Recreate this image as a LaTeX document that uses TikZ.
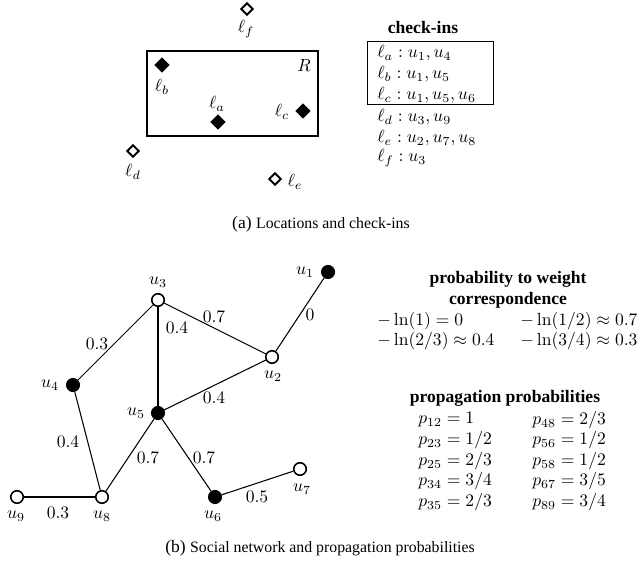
\documentclass[tikz,border=0pt]{standalone}
\usepackage{amsmath,amssymb}
\usepackage[no-math]{fontspec}
\setmainfont{Liberation Serif}
\usepackage{tikz}
\usetikzlibrary{shapes.geometric}

\begin{document}
\begin{tikzpicture}[
        x=0.02cm, y=-0.02cm,
        loc/.style={draw, diamond, line width=1.1pt, inner sep=0pt, minimum size=0.25cm, fill=white},
        visited/.style={loc, fill=black, minimum size=0.27cm},
        user/.style={draw, circle, line width=0.9pt, inner sep=0pt, minimum size=0.25cm, fill=white},
        infected/.style={user, fill=black},
        lbl/.style={inner sep=1pt},
        weight/.style={inner sep=1pt},
        heading/.style={font=\bfseries, inner sep=0pt, align=center},
        row/.style={anchor=west, inner sep=0pt}
    ]
        \useasboundingbox (0,0) rectangle (642,563);

        % Region and locations
        \draw[line width=1.2pt] (147,51) rectangle (318,136);
        \node[lbl] (R) at (304,66) {$R$};
        \node[visited] (la) at (218,122) {};
        \node[visited] (lb) at (162,65) {};
        \node[visited] (lc) at (303,111) {};
        \node[loc] (ld) at (133,151) {};
        \node[loc] (le) at (275,179) {};
        \node[loc] (lf) at (247,9) {};
        \node[lbl] (la-l) at (217,104) {$\ell_a$};
        \node[lbl] (lb-l) at (162,87) {$\ell_b$};
        \node[lbl] (lc-l) at (282,112) {$\ell_c$};
        \node[lbl] (ld-l) at (133,172) {$\ell_d$};
        \node[lbl] (le-l) at (295,182) {$\ell_e$};
        \node[lbl] (lf-l) at (246,29) {$\ell_f$};

        % Check-ins
        \node[heading] (chk) at (423,27) {check-ins};
        \draw[line width=0.5pt] (367,41) rectangle (493,104);
        \node[row] (ca) at (377,53) {$\ell_a : u_1, u_4$};
        \node[row] (cb) at (377,74) {$\ell_b : u_1, u_5$};
        \node[row] (cc) at (377,95.5) {$\ell_c : u_1, u_5, u_6$};
        \node[row] (cd) at (377,117) {$\ell_d : u_3, u_9$};
        \node[row] (ce) at (377,138) {$\ell_e : u_2, u_7, u_8$};
        \node[row] (cf) at (377,158) {$\ell_f : u_3$};

        \node (capa) at (321,224) {(a) {\small Locations and check-ins}};

        % Social network
        \node[infected] (u1) at (328,272) {};
        \node[user] (u2) at (272,357) {};
        \node[user] (u3) at (158,300) {};
        \node[infected] (u4) at (73,385) {};
        \node[infected] (u5) at (158,413) {};
        \node[infected] (u6) at (215,497) {};
        \node[user] (u7) at (300,469) {};
        \node[user] (u8) at (102,497) {};
        \node[user] (u9) at (17,497) {};

        \node[lbl] (u1-l) at (305,272) {$u_1$};
        \node[lbl] (u2-l) at (273,376) {$u_2$};
        \node[lbl] (u3-l) at (158,282) {$u_3$};
        \node[lbl] (u4-l) at (50,385) {$u_4$};
        \node[lbl] (u5-l) at (136,413) {$u_5$};
        \node[lbl] (u6-l) at (213,516) {$u_6$};
        \node[lbl] (u7-l) at (302,489) {$u_7$};
        \node[lbl] (u8-l) at (102,516) {$u_8$};
        \node[lbl] (u9-l) at (16,516) {$u_9$};

        % Edges
        \draw[line width=0.6pt] (u1) -- (u2);
        \draw[line width=0.6pt] (u2) -- (u3);
        \draw[line width=0.6pt] (u2) -- (u5);
        \draw[line width=0.6pt] (u3) -- (u4);
        \draw[line width=0.6pt] (u3) -- (u5);
        \draw[line width=0.6pt] (u4) -- (u8);
        \draw[line width=0.6pt] (u5) -- (u6);
        \draw[line width=0.6pt] (u5) -- (u8);
        \draw[line width=0.6pt] (u6) -- (u7);
        \draw[line width=0.6pt] (u8) -- (u9);

        \node[weight] (w12) at (310,315) {$0$};
        \node[weight] (w23) at (214,317) {$0.7$};
        \node[weight] (w25) at (214,398) {$0.4$};
        \node[weight] (w34) at (97,344) {$0.3$};
        \node[weight] (w35) at (177,328) {$0.4$};
        \node[weight] (w48) at (68,442) {$0.4$};
        \node[weight] (w56) at (204,458) {$0.7$};
        \node[weight] (w58) at (148,458) {$0.7$};
        \node[weight] (w67) at (257,497) {$0.5$};
        \node[weight] (w89) at (58,513) {$0.3$};

        % Weights
        \node[heading] (corr) at (508,290) {probability to weight\\correspondence};
        \node[row] (ln1) at (377,321.5) {$-\ln(1) = 0$};
        \node[row] (ln2) at (520,321.5) {$-\ln(1/2) \approx 0.7$};
        \node[row] (ln3) at (377,341.5) {$-\ln(2/3) \approx 0.4$};
        \node[row] (ln4) at (520,341.5) {$-\ln(3/4) \approx 0.3$};

        % Probabilities
        \node[heading] (prob) at (505,398) {propagation probabilities};
        \node[row] (p12) at (418,420) {$p_{12} = 1$};
        \node[row] (p23) at (418,440.5) {$p_{23} = 1/2$};
        \node[row] (p25) at (418,461) {$p_{25} = 2/3$};
        \node[row] (p34) at (418,481.5) {$p_{34} = 3/4$};
        \node[row] (p35) at (418,502) {$p_{35} = 2/3$};
        \node[row] (p48) at (532,420) {$p_{48} = 2/3$};
        \node[row] (p56) at (532,440.5) {$p_{56} = 1/2$};
        \node[row] (p58) at (532,461) {$p_{58} = 1/2$};
        \node[row] (p67) at (532,481.5) {$p_{67} = 3/5$};
        \node[row] (p89) at (532,502) {$p_{89} = 3/4$};

        \node (capb) at (320,548) {(b) {\small Social network and propagation probabilities}};
    \end{tikzpicture}
\end{document}
